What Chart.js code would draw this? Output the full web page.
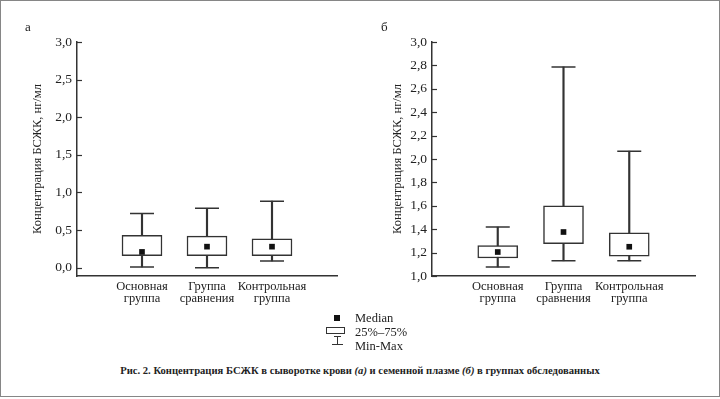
<!DOCTYPE html>
<html>
<head>
<meta charset="utf-8">
<script src="https://cdn.jsdelivr.net/npm/chart.js@4.4.1/dist/chart.umd.min.js"></script>
<style>
    html, body { margin: 0; padding: 0; background: #fff; }
    #page { position: relative; width: 720px; height: 399px; overflow: hidden; font-family: "Liberation Serif", "Times New Roman", serif; color: #222; }
    #frame { position: absolute; left: 0; top: 0; width: 720px; height: 397px; box-sizing: border-box; border: 1.5px solid #868686; }
    .panel { position: absolute; top: 0; }
    .letter { position: absolute; top: 19px; font-size: 13px; }
    .lg { position: absolute; left: 355px; font-size: 12.5px; line-height: 14px; }
    .ico { position: absolute; box-sizing: border-box; }
    #caption { position: absolute; left: 0; width: 720px; top: 365px; text-align: center; font-size: 10.6px; font-weight: bold; }
</style>
</head>
<body>
<div id="page">
    <canvas id="chartA" class="panel" style="left:0" width="360" height="320"></canvas>
    <canvas id="chartB" class="panel" style="left:360px" width="360" height="320"></canvas>
    <div class="letter" style="left:25px">а</div>
    <div class="letter" style="left:381px">б</div>

    <!-- legend -->
    <div class="ico" style="left:334px;top:315px;width:6px;height:6px;background:#111"></div>
    <div class="lg" style="top:311px">Median</div>
    <div class="ico" style="left:326px;top:327px;width:19px;height:7px;border:1.2px solid #333"></div>
    <div class="lg" style="top:325px">25%–75%</div>
    <div class="ico" style="left:334px;top:336px;width:7px;height:1.2px;background:#333"></div>
    <div class="ico" style="left:337px;top:336px;width:1.2px;height:8px;background:#333"></div>
    <div class="ico" style="left:332px;top:344px;width:11px;height:1.2px;background:#333"></div>
    <div class="lg" style="top:339px">Min-Max</div>

    <div id="caption">Рис. 2. Концентрация БСЖК в сыворотке крови <i>(а)</i> и семенной плазме <i>(б)</i> в группах обследованных</div>
    <div id="frame"></div>
</div>
<script>
// groups on the x axis
var groups = [['Основная', 'группа'], ['Группа', 'сравнения'], ['Контрольная', 'группа']];

// а: сыворотка крови
var serumMin = [0.01, 0.00, 0.09];
var serumQ1 = [0.16, 0.16, 0.16];
var serumMedian = [0.21, 0.28, 0.28];
var serumQ3 = [0.43, 0.42, 0.385];
var serumMax = [0.72, 0.79, 0.885];
var serumTicks = [0, 0.5, 1.0, 1.5, 2.0, 2.5, 3.0];

// б: семенная плазма
var plasmaMin = [1.077, 1.13, 1.13];
var plasmaQ1 = [1.154, 1.276, 1.17];
var plasmaMedian = [1.205, 1.376, 1.25];
var plasmaQ3 = [1.259, 1.60, 1.37];
var plasmaMax = [1.418, 2.787, 2.067];
var plasmaTicks = [1.0, 1.2, 1.4, 1.6, 1.8, 2.0, 2.2, 2.4, 2.6, 2.8, 3.0];

var FONT = '"Liberation Serif", "Times New Roman", serif';
var INK = '#333';

// tick marks pointing into the plot, as in the original
var innerTicks = {
    id: 'innerTicks',
    afterDraw: function (chart) {
        var y = chart.scales.y, left = chart.chartArea.left, ctx = chart.ctx;
        ctx.save();
        ctx.strokeStyle = INK;
        ctx.lineWidth = 1.2;
        y.ticks.forEach(function (t) {
            var py = Math.round(y.getPixelForValue(t.value)) + 0.5;
            ctx.beginPath();
            ctx.moveTo(left, py);
            ctx.lineTo(left + 5, py);
            ctx.stroke();
        });
        ctx.restore();
    }
};

function pad(arr) { return [null].concat(arr, [null]); }
function ranges(lo, hi) { return pad(lo.map(function (v, i) { return [v, hi[i]]; })); }

function boxChart(id, mins, q1, med, q3, maxs, yMin, yMax, tickVals, yWidth, padRight) {
    return new Chart(document.getElementById(id), {
        type: 'bar',
        data: {
            labels: [''].concat(groups, ['']),
            datasets: [
                { type: 'line', data: pad(med), showLine: false, pointStyle: 'rect', pointRadius: 4, backgroundColor: '#111', borderWidth: 0, order: 1 },
                { type: 'line', data: pad(maxs), showLine: false, pointStyle: 'line', pointRadius: 12, borderColor: INK, borderWidth: 1.5, order: 2 },
                { type: 'line', data: pad(mins), showLine: false, pointStyle: 'line', pointRadius: 12, borderColor: INK, borderWidth: 1.5, order: 2 },
                { data: ranges(q1, q3), backgroundColor: '#fff', borderColor: INK, borderWidth: 1.5, borderSkipped: false, barThickness: 40, grouped: false, order: 3 },
                { data: ranges(mins, maxs), backgroundColor: INK, barThickness: 1.5, grouped: false, order: 4 }
            ]
        },
        options: {
            responsive: false,
            animation: false,
            events: [],
            layout: { padding: { left: 30, top: 42, right: padRight, bottom: 10 } },
            plugins: { legend: { display: false }, tooltip: { enabled: false } },
            scales: {
                x: {
                    offset: false,
                    grid: { display: false, drawTicks: false },
                    border: { display: true, color: INK, width: 1.5 },
                    ticks: { autoSkip: false, maxRotation: 0, padding: 5, color: '#222', font: { family: FONT, size: 12.5, lineHeight: 0.95 } },
                    afterFit: function (s) { s.height = 34; }
                },
                y: {
                    min: yMin,
                    max: yMax,
                    grid: { display: false, drawTicks: false },
                    border: { display: true, color: INK, width: 1.5 },
                    afterBuildTicks: function (s) { s.ticks = tickVals.map(function (v) { return { value: v }; }); },
                    ticks: {
                        padding: 5,
                        color: '#222',
                        font: { family: FONT, size: 13.5 },
                        callback: function (v) { return Number(v).toFixed(1).replace('.', ','); }
                    },
                    title: { display: true, text: 'Концентрация БСЖК, нг/мл', color: '#222', padding: 0, font: { family: FONT, size: 12.5, lineHeight: 1.2 } },
                    afterFit: function (s) { s.width = yWidth; }
                }
            }
        },
        plugins: [innerTicks]
    });
}

boxChart('chartA', serumMin, serumQ1, serumMedian, serumQ3, serumMax, -0.11, 3.0, serumTicks, 47, 23);
boxChart('chartB', plasmaMin, plasmaQ1, plasmaMedian, plasmaQ3, plasmaMax, 1.0, 3.0, plasmaTicks, 42, 25);
</script>
</body>
</html>
